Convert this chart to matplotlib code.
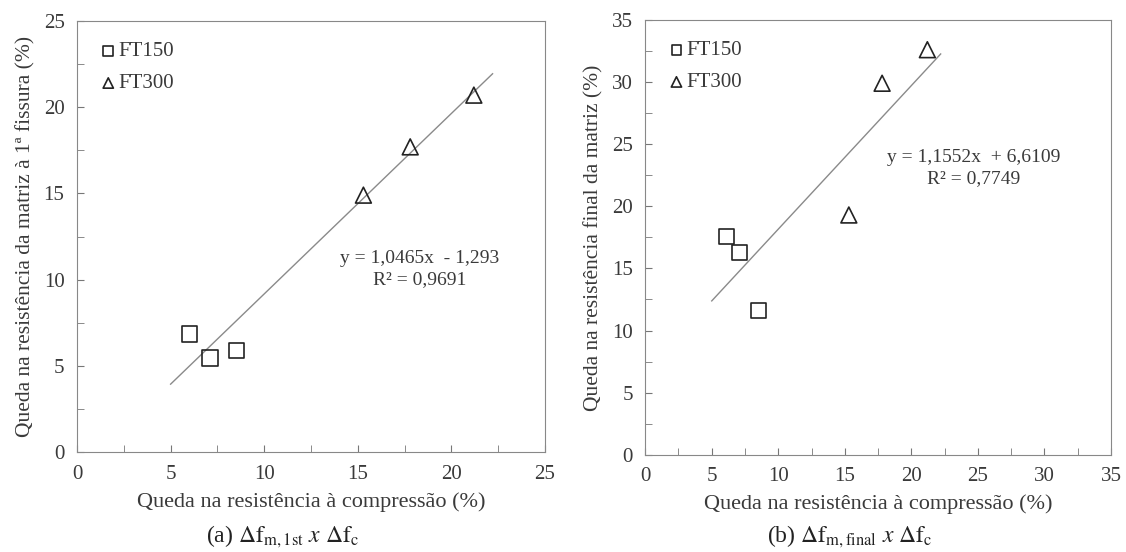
import numpy as np
import matplotlib
matplotlib.use("Agg")
import matplotlib.pyplot as plt

plt.rcParams['font.family'] = ['Liberation Serif', 'DejaVu Serif']
plt.rcParams['mathtext.fontset'] = 'stix'

# Dados
x150_a = [6.0, 7.1, 8.5]
y150_a = [6.85, 5.45, 5.9]
x300_a = [15.3, 17.8, 21.2]
y300_a = [14.9, 17.7, 20.7]

x150_b = [6.1, 7.1, 8.5]
y150_b = [17.6, 16.3, 11.6]
x300_b = [15.3, 17.8, 21.2]
y300_b = [19.3, 29.9, 32.6]

# Linhas de tendência (coeficientes do gráfico)
coef_a = (1.0465, -1.293)
coef_b = (1.1552, 6.6109)
trend_x = [5.0, 22.2]

txt = '#3a3a3a'
fig = plt.figure(figsize=(11.26, 5.52), dpi=100)
ax1 = fig.add_axes([0.0684, 0.181, 0.4156, 0.781])
ax2 = fig.add_axes([0.573, 0.176, 0.4137, 0.788])


def painel(ax, x1, y1, x2, y2, coef, lim, ylabel, eq, eqpos):
    xt = np.array(trend_x)
    ax.plot(xt, coef[0] * xt + coef[1], color='#8a8a8a', lw=1.0, zorder=1)
    ax.scatter(x1, y1, marker='s', s=120, facecolors='none', edgecolors='#222222',
               linewidths=1.2, label='FT150', zorder=3)
    ax.scatter(x2, y2, marker='^', s=130, facecolors='none', edgecolors='#222222',
               linewidths=1.2, label='FT300', zorder=3)
    ax.set_xlim(0, lim)
    ax.set_ylim(0, lim)
    ax.set_xticks(np.arange(0, lim + 1, 5))
    ax.set_yticks(np.arange(0, lim + 1, 5))
    ax.set_xticks(np.arange(0, lim + 0.1, 2.5), minor=True)
    ax.set_yticks(np.arange(0, lim + 0.1, 2.5), minor=True)
    ax.tick_params(which='both', direction='in', length=5, color='#777777',
                   labelsize=15, labelcolor=txt, pad=9)
    for s in ax.spines.values():
        s.set_color('#888888')
    ax.set_xlabel('Queda na resistência à compressão (%)', fontsize=16, color=txt,
                  labelpad=6)
    ax.set_ylabel(ylabel, fontsize=15.5, color=txt, labelpad=6)
    ax.text(eqpos[0], eqpos[1], eq, ha='center', va='center', fontsize=14,
            color=txt, linespacing=1.3)
    leg = ax.legend(loc='upper left', frameon=False, fontsize=15, handletextpad=0.0,
                    handlelength=1.0, markerscale=0.65, labelspacing=0.6,
                    borderaxespad=0.6)
    for t in leg.get_texts():
        t.set_color(txt)


painel(ax1, x150_a, y150_a, x300_a, y300_a, coef_a, 25,
       'Queda na resistência da matriz à 1ª fissura (%)',
       'y = 1,0465x  - 1,293\nR² = 0,9691', (18.3, 10.6))
painel(ax2, x150_b, y150_b, x300_b, y300_b, coef_b, 35,
       'Queda na resistência final da matriz (%)',
       'y = 1,1552x  + 6,6109\nR² = 0,7749', (24.7, 23.1))

fig.text(0.251, 0.027, r'(a) $\Delta\mathrm{f}_{\mathrm{m,1st}}\ x\ \Delta\mathrm{f}_{\mathrm{c}}$',
         ha='center', va='center', fontsize=17, color='#222222')
fig.text(0.755, 0.027, r'(b) $\Delta\mathrm{f}_{\mathrm{m,final}}\ x\ \Delta\mathrm{f}_{\mathrm{c}}$',
         ha='center', va='center', fontsize=17, color='#222222')

fig.savefig('out.png', dpi=100)
